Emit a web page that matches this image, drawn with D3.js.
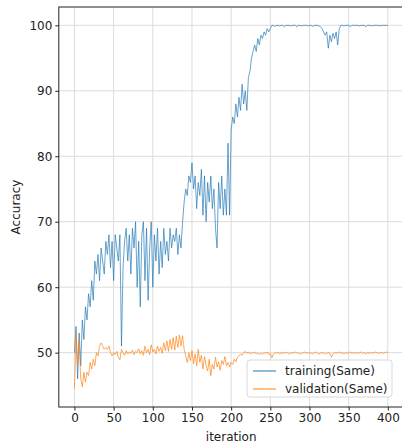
<!DOCTYPE html>
<html>
<head>
<meta charset="utf-8">
<script src="https://cdn.jsdelivr.net/npm/d3@7/dist/d3.min.js"></script>
<style>
  html, body { margin: 0; padding: 0; background: #fff; }
  svg { display: block; font-family: "DejaVu Sans", sans-serif; }
</style>
</head>
<body>
<svg id="chart" width="402" height="445"></svg>
<script>
// Iteration index (every 2nd iteration is logged)
const iterations = d3.range(0, 401, 2);

// Training accuracy (%) per logged iteration
const training = [
  50,54,46,53,48,55,52,57,55,59,57,61,58,64,62,65,61,66,64,62,67,65,68,63,67,61,68,66,64,68,
  51,63,67,69,64,68,62,69,66,70,60,67,57,68,70,61,69,58,66,70,60,68,64,69,62,67,63,69,65,67,
  64,69,66,68,67,69,65,68,66,70,73,75,74,77,76,79,75,77,72,76,74,78,71,77,70,76,73,77,72,75,
  69,66,76,72,77,71,75,71,82,71,84,86,85,88,86,89,87,91,88,90,87,92,93,95,96,97,96,98,97,98.5,
  98,99,98.5,99.5,99,99.5,100,100,99.8,100,100,99.9,100,100,99.8,100,100,100,99.9,100,100,100,99.8,100,100,99.9,100,100,100,99.9,
  100,100,99.8,100,100,100,99.9,99.8,99.5,99,98.5,99,96.5,98.5,97.5,98.8,98,99,97,99.5,100,100,99.9,100,100,100,99.8,100,100,100,
  100,100,99.9,100,100,100,99.8,100,100,100,99.9,100,100,100,100,99.9,100,100,100,100,100
];

// Validation accuracy (%) per logged iteration
const validation = [
  44.5,53,48,52,46,44.8,47,45.5,47,46.5,48.5,47.5,49,48,50,49.5,51,51.5,51,50.5,50.8,50.5,51,50,49.5,50,49.7,50.2,49.3,48.9,
  50.5,50,49.6,50.3,49.8,50.1,49.9,50.4,49.7,50.2,50,50.6,49.8,50.3,49.6,51,50,50.5,49.7,51.2,50.1,50.5,49.8,51,50.2,50.8,49.9,51.5,50.3,51.8,
  50.2,52,50.5,52.3,50.4,52.5,50.8,52.7,51,52.6,50.5,49.5,48.5,50,48.8,50.3,48.3,49.8,48,50.5,48.5,49.6,47.5,49.4,48,47.2,49,46.5,48.2,47.5,
  49.3,47.8,48.6,47.3,48.8,48.2,49.4,48,48.5,47.8,48.5,48.2,49,48.6,49.3,49.5,49.8,49.6,50,50.2,49.9,50.1,49.8,50,49.9,50.1,49.8,50,49.7,49.9,
  49.8,50,49.9,50.1,49.7,49.9,49.2,49.8,50,49.9,50.1,49.8,50,49.9,50,50.1,49.9,49.8,50,49.9,50,50.1,49.9,50,49.8,49.9,50,50.1,49.9,50,
  49.9,50,49.8,50,50.1,49.9,49.8,50,49.9,50,49.8,49.9,50,49.9,49.3,49.8,50,49.9,50,50.1,49.9,50,49.8,50,49.9,50,50.1,49.9,50,49.9,
  50,49.9,50,50.1,49.9,50,49.8,50,49.9,50,50,49.9,50.1,50,49.9,50,50,49.9,50,50.1,50
];

const xTicks = [0, 50, 100, 150, 200, 250, 300, 350, 400];
const yTicks = [50, 60, 70, 80, 90, 100];
const seriesNames = ["training(Same)", "validation(Same)"];
const seriesColors = ["#1f77b4", "#ff7f0e"];

const svg = d3.select("#chart");
const plot = { left: 58.8, top: 7, right: 403.5, bottom: 407 };

const x = d3.scaleLinear().domain([-20, 420]).range([plot.left, plot.right]);
const y = d3.scaleLinear().domain([41.7, 102.8]).range([plot.bottom, plot.top]);

// Grid lines
const grid = svg.append("g").attr("stroke", "#dcdcdc").attr("stroke-width", 1);
xTicks.forEach(t => grid.append("line")
  .attr("x1", x(t)).attr("x2", x(t)).attr("y1", plot.top).attr("y2", plot.bottom));
yTicks.forEach(t => grid.append("line")
  .attr("x1", plot.left).attr("x2", plot.right).attr("y1", y(t)).attr("y2", y(t)));

// Series lines
const series = [training, validation];
const line = d3.line().x((d, i) => x(iterations[i])).y(d => y(d));
series.forEach((vals, k) => {
  svg.append("path")
    .datum(vals)
    .attr("fill", "none")
    .attr("stroke", seriesColors[k])
    .attr("stroke-width", 0.8)
    .attr("stroke-opacity", 0.85)
    .attr("stroke-linejoin", "round")
    .attr("d", line);
});

// Frame
svg.append("rect")
  .attr("x", plot.left).attr("y", plot.top)
  .attr("width", plot.right - plot.left).attr("height", plot.bottom - plot.top)
  .attr("fill", "none").attr("stroke", "#222").attr("stroke-width", 1);

// Axes
const xAxis = svg.append("g")
  .attr("transform", `translate(0,${plot.bottom})`)
  .call(d3.axisBottom(x).tickValues(xTicks).tickSize(3.5).tickPadding(3));
const yAxis = svg.append("g")
  .attr("transform", `translate(${plot.left},0)`)
  .call(d3.axisLeft(y).tickValues(yTicks).tickSize(3.5).tickPadding(3));
[xAxis, yAxis].forEach(a => {
  a.select(".domain").remove();
  a.selectAll("text").attr("font-size", 12).attr("fill", "#222")
    .attr("font-family", "DejaVu Sans, sans-serif");
  a.selectAll("line").attr("stroke", "#222");
});

// Axis titles
svg.append("text")
  .attr("x", (x(0) + x(400)) / 2).attr("y", 441)
  .attr("text-anchor", "middle").attr("font-size", 12).attr("fill", "#222")
  .text("iteration");
svg.append("text")
  .attr("transform", `translate(20,${(plot.top + plot.bottom) / 2}) rotate(-90)`)
  .attr("text-anchor", "middle").attr("font-size", 12).attr("fill", "#222")
  .text("Accuracy");

// Legend
const legend = svg.append("g").attr("transform", "translate(247,360)");
legend.append("rect")
  .attr("width", 145).attr("height", 37).attr("rx", 3)
  .attr("fill", "#fff").attr("fill-opacity", 0.85)
  .attr("stroke", "#d8d8d8");
seriesNames.forEach((name, k) => {
  const cy = 11 + k * 18;
  legend.append("line")
    .attr("x1", 6).attr("x2", 29).attr("y1", cy).attr("y2", cy)
    .attr("stroke", seriesColors[k]).attr("stroke-width", 1);
  legend.append("text")
    .attr("x", 38).attr("y", cy + 4.3)
    .attr("font-size", 12).attr("fill", "#222")
    .text(name);
});
</script>
</body>
</html>
